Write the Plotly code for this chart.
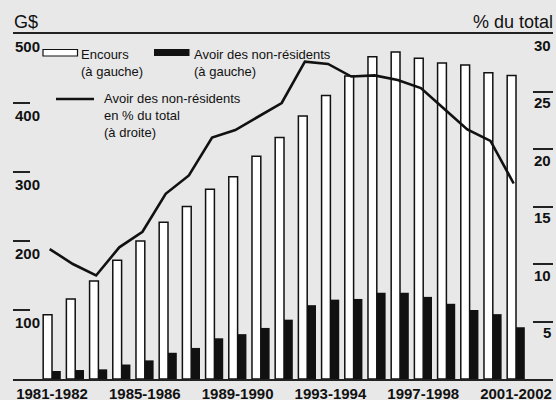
import plotly.graph_objects as go

years = ["1981-1982", "1982-1983", "1983-1984", "1984-1985", "1985-1986", "1986-1987",
         "1987-1988", "1988-1989", "1989-1990", "1990-1991", "1991-1992", "1992-1993",
         "1993-1994", "1994-1995", "1995-1996", "1996-1997", "1997-1998", "1998-1999",
         "1999-2000", "2000-2001", "2001-2002"]
encours = [93, 116, 142, 172, 200, 227, 250, 275, 293, 323, 350, 381, 411, 439, 467,
           474, 465, 458, 455, 444, 440]
non_residents = [11.6, 13, 14, 21, 27, 38, 45, 59, 65, 74, 86, 107, 115, 116, 125,
                 125, 119, 109, 100, 94, 75]
pct_total = [11.3, 10.0, 9.0, 11.45, 12.8, 16.1, 17.7, 21.0, 21.65, 22.8, 24.0, 27.6,
             27.4, 26.3, 26.4, 26.0, 25.3, 23.5, 21.7, 20.7, 17.0]
left_ticks = [100, 200, 300, 400, 500]
right_ticks = [5, 10, 15, 20, 25, 30]
label_years = ["1981-1982", "1985-1986", "1989-1990", "1993-1994", "1997-1998", "2001-2002"]

W, H = 556, 400
ML, MR, MT, MB = 13, 3, 34, 21
PW, PH = W - ML - MR, H - MT - MB
FONT = "Liberation Sans, Arial, sans-serif"
BG = "#e8e8e8"
INK = "#111111"

def px(x):
    return (x - ML) / PW

def py(y):
    return (H - MB - y) / PH

idx = list(range(len(years)))
fig = go.Figure()
fig.add_trace(go.Bar(x=idx, y=encours, name="Encours", marker=dict(color="white", line=dict(color=INK, width=1.5)), offsetgroup="a"))
fig.add_trace(go.Bar(x=idx, y=non_residents, name="Avoir", marker=dict(color=INK, line=dict(width=0)), offsetgroup="b"))
fig.add_trace(go.Scatter(x=[i - 0.1 for i in idx], y=pct_total, yaxis="y2", mode="lines",
                         line=dict(color=INK, width=2.6)))

tick_pos = [years.index(l) for l in label_years]
fig.update_layout(
    width=W, height=H, margin=dict(l=ML, r=MR, t=MT, b=MB, autoexpand=False),
    paper_bgcolor=BG, plot_bgcolor=BG, showlegend=False,
    barmode="group", bargap=0.24, bargroupgap=0,
    font=dict(family=FONT, color=INK),
    xaxis=dict(range=[-1.681, 21.595], tickvals=tick_pos, ticktext=[f"<b>{l}</b>" for l in label_years],
               tickfont=dict(size=15, family=FONT, color=INK), ticks="", showgrid=False, zeroline=False,
               showline=True, linecolor="#222", linewidth=2, mirror=True, ticklabelstandoff=0,
               automargin=False),
    yaxis=dict(range=[0, 500], tickvals=left_ticks, showticklabels=False, ticks="inside", ticklen=17,
               tickwidth=1.5, tickcolor="#222", showgrid=False, zeroline=False, showline=False,
               automargin=False),
    yaxis2=dict(range=[0, 30], overlaying="y", side="right", tickvals=right_ticks, showticklabels=False,
                ticks="inside", ticklen=20, tickwidth=1.5, tickcolor="#222", showgrid=False,
                zeroline=False, showline=False, automargin=False),
)

ann = []
for v in left_ticks:
    ann.append(dict(x=0, xref="paper", y=v, yref="y", text=f"<b>{v}</b>", showarrow=False,
                    xanchor="left", yanchor="middle", yshift=-12, font=dict(size=15, family=FONT, color=INK)))
for v in right_ticks:
    ann.append(dict(x=1, xref="paper", y=v, yref="y2", text=f"<b>{v}</b>", showarrow=False,
                    xanchor="right", yanchor="middle", yshift=-11, font=dict(size=15, family=FONT, color=INK)))
ann.append(dict(x=px(12), xref="paper", y=py(22), yref="paper", text="G$", showarrow=False,
                xanchor="left", yanchor="middle", font=dict(size=18, family=FONT, color=INK)))
ann.append(dict(x=px(555), xref="paper", y=py(22), yref="paper", text="% du total", showarrow=False,
                xanchor="right", yanchor="middle", font=dict(size=18, family=FONT, color=INK)))
# legend
leg_font = dict(size=13, family=FONT, color=INK)
ann.append(dict(x=px(79), xref="paper", y=py(45), yref="paper", text="Encours<br>(à gauche)", showarrow=False,
                xanchor="left", yanchor="top", align="left", font=leg_font))
ann.append(dict(x=px(192), xref="paper", y=py(45), yref="paper", text="Avoir des non-résidents<br>(à gauche)",
                showarrow=False, xanchor="left", yanchor="top", align="left", font=leg_font))
ann.append(dict(x=px(102), xref="paper", y=py(89), yref="paper",
                text="Avoir des non-résidents<br>en % du total<br>(à droite)",
                showarrow=False, xanchor="left", yanchor="top", align="left", font=leg_font))
fig.update_layout(annotations=ann)

shapes = [
    dict(type="rect", xref="paper", yref="paper", x0=px(43), x1=px(77.5), y0=py(56), y1=py(49.5),
         fillcolor="white", line=dict(color=INK, width=1.2)),
    dict(type="rect", xref="paper", yref="paper", x0=px(154), x1=px(189.5), y0=py(56), y1=py(49),
         fillcolor=INK, line=dict(width=0)),
    dict(type="line", xref="paper", yref="paper", x0=px(56), x1=px(94), y0=py(99), y1=py(99),
         line=dict(color=INK, width=2.6)),
]
fig.update_layout(shapes=shapes)

fig.write_html("out.html", config={"displayModeBar": False},
               post_script="document.body.style.margin='0';document.body.style.overflow='hidden';"
                           "document.body.style.background='#e8e8e8';")
